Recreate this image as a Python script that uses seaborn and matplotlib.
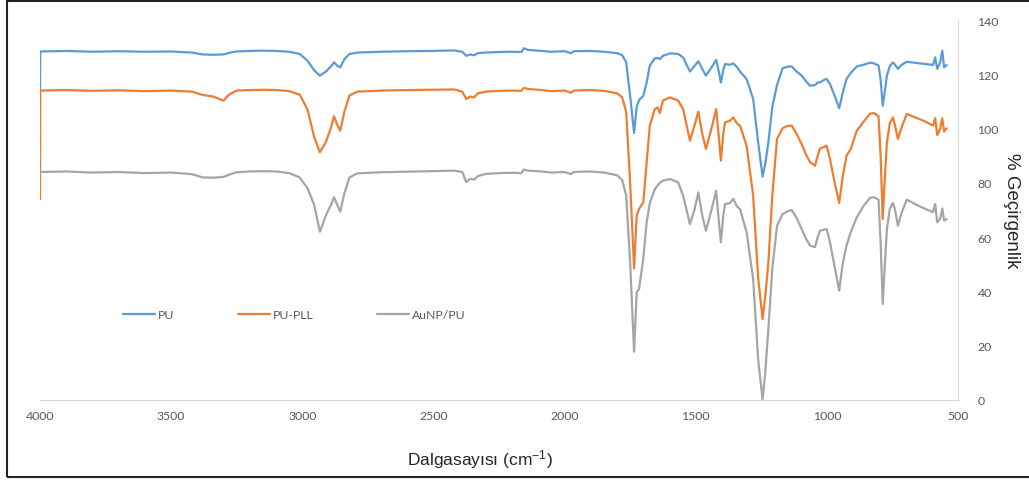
import matplotlib
matplotlib.use("Agg")
import matplotlib.pyplot as plt
from matplotlib.patches import Rectangle
import pandas as pd
import seaborn as sns

# ----------------------------
# Data
# ----------------------------
wavenumber = [
    4000, 3999, 3900, 3800, 3700, 3600, 3500, 3420, 3380, 3340, 3300, 3280,
    3250, 3200, 3150, 3100, 3050, 3010, 2980, 2955, 2933, 2910, 2890, 2879,
    2865, 2855, 2840, 2820, 2790, 2700, 2600, 2500, 2420, 2390, 2375, 2360,
    2345, 2330, 2300, 2250, 2200, 2165, 2155, 2140, 2100, 2050, 2000, 1975,
    1965, 1900, 1850, 1800, 1780, 1765, 1750, 1735, 1725, 1716, 1700, 1687,
    1675, 1656, 1645, 1637, 1625, 1598, 1567, 1548, 1522, 1505, 1490, 1475,
    1461, 1440, 1422, 1412, 1404, 1395, 1388, 1370, 1357, 1342, 1331, 1306,
    1281, 1262, 1245, 1235, 1223, 1208, 1190, 1169, 1150, 1134, 1115, 1096,
    1080, 1064, 1045, 1035, 1026, 1010, 1001, 988, 970, 953, 940, 925,
    909, 886, 860, 835, 820, 803, 795, 787, 780, 771, 760, 748,
    740, 729, 715, 695, 660, 625, 600, 595, 587, 579, 568, 560,
    553, 543,
]

pu = [
    114.0, 128.4, 128.6, 128.3, 128.5, 128.3, 128.4, 128.0, 127.3, 127.2, 127.3, 127.9,
    128.4, 128.6, 128.7, 128.6, 128.3, 127.5, 125.0, 121.5, 119.5, 121.0, 123.0, 124.4,
    123.0, 122.6, 125.5, 127.5, 128.0, 128.3, 128.5, 128.6, 128.8, 128.3, 126.8, 127.3,
    127.0, 127.8, 128.0, 128.2, 128.3, 128.2, 129.6, 129.0, 128.7, 128.3, 128.5, 127.8,
    128.5, 128.6, 128.3, 127.8, 127.0, 124.4, 112.0, 98.4, 108.0, 110.5, 112.0, 117.0,
    123.2, 125.9, 126.0, 125.6, 126.8, 127.7, 127.5, 126.2, 121.0, 123.0, 124.8, 122.0,
    119.5, 122.5, 125.3, 121.0, 117.0, 121.5, 123.8, 123.5, 124.0, 122.6, 121.0, 118.3,
    110.9, 95.0, 82.3, 87.0, 94.9, 108.0, 116.0, 122.2, 122.8, 122.9, 121.0, 119.5,
    117.5, 115.8, 116.0, 117.0, 117.0, 118.0, 118.3, 116.4, 112.0, 107.5, 113.0, 118.3,
    120.5, 122.9, 123.5, 124.3, 124.0, 123.2, 118.0, 108.4, 113.0, 119.5, 123.0, 124.4,
    123.5, 122.0, 123.5, 124.6, 124.2, 123.8, 123.5, 123.4, 126.2, 122.0, 124.4, 128.7,
    122.6, 123.4,
]

pu_pll = [
    74.0, 114.0, 114.2, 113.9, 114.1, 113.8, 114.0, 113.6, 112.4, 111.8, 110.3, 112.5,
    114.0, 114.2, 114.3, 114.2, 113.8, 112.5, 107.0, 97.0, 91.3, 95.0, 100.5, 104.5,
    101.0, 99.2, 106.0, 112.2, 113.6, 114.0, 114.2, 114.3, 114.4, 113.6, 110.9, 111.8,
    111.5, 113.0, 113.6, 113.9, 114.0, 113.9, 115.0, 114.6, 114.3, 113.8, 114.0, 113.2,
    114.0, 114.2, 113.9, 113.0, 111.5, 106.0, 80.0, 48.5, 67.9, 70.4, 72.8, 87.6,
    101.1, 107.2, 107.8, 105.7, 110.3, 111.5, 110.3, 107.2, 95.5, 101.0, 106.2, 98.0,
    92.5, 100.0, 107.2, 97.0, 88.2, 98.0, 102.3, 102.8, 104.1, 101.8, 101.1, 93.7,
    75.3, 45.0, 29.8, 38.0, 50.7, 75.3, 96.2, 100.1, 101.0, 101.1, 98.0, 94.3,
    90.5, 87.6, 86.3, 90.0, 92.7, 93.2, 93.7, 88.8, 80.0, 72.6, 82.0, 90.0,
    92.5, 99.2, 102.5, 105.5, 105.7, 104.5, 90.0, 66.7, 80.0, 94.9, 102.0, 104.1,
    101.0, 96.2, 100.5, 105.4, 104.0, 102.6, 101.3, 101.1, 103.8, 97.6, 99.9, 103.8,
    98.9, 100.1,
]

aunp_pu = [
    84.0, 84.0, 84.2, 83.8, 84.0, 83.6, 83.8, 83.2, 82.0, 81.9, 82.2, 83.0,
    83.9, 84.2, 84.3, 84.2, 83.6, 82.0, 78.0, 72.0, 62.0, 68.0, 72.0, 74.7,
    71.5, 69.4, 76.0, 82.0, 83.5, 83.9, 84.1, 84.3, 84.5, 84.0, 80.3, 81.5,
    81.2, 82.5, 83.3, 83.6, 83.7, 83.6, 84.9, 84.5, 84.3, 83.8, 84.0, 83.2,
    84.0, 84.2, 83.8, 82.8, 81.0, 75.3, 50.7, 17.8, 39.7, 40.9, 52.0, 65.5,
    72.5, 77.7, 79.0, 80.0, 80.8, 81.4, 80.2, 75.3, 64.8, 70.0, 76.5, 68.0,
    62.4, 70.0, 77.1, 66.0, 58.1, 68.0, 72.2, 72.5, 74.1, 71.2, 70.4, 61.8,
    44.6, 15.0, 0.1, 10.0, 26.2, 48.3, 64.2, 68.5, 69.5, 70.0, 67.0, 63.0,
    59.5, 56.9, 56.3, 60.0, 62.4, 62.8, 63.0, 58.1, 49.0, 40.3, 50.0, 56.9,
    61.8, 67.3, 71.5, 74.5, 74.7, 73.8, 58.0, 35.4, 48.0, 63.0, 70.5, 72.6,
    70.0, 64.2, 69.0, 73.8, 72.0, 70.4, 69.4, 69.2, 72.2, 65.5, 66.7, 70.6,
    66.1, 66.7,
]

series_names = ["PU", "PU-PLL", "AuNP/PU"]
series_colors = ["#5B9BD5", "#ED7D31", "#A5A5A5"]

x_ticks = [4000, 3500, 3000, 2500, 2000, 1500, 1000, 500]
y_ticks = [0, 20, 40, 60, 80, 100, 120, 140]

# ----------------------------
# Plot
# ----------------------------
sns.set_style("white")
plt.rcParams["font.family"] = ["Lato", "DejaVu Sans"]
plt.rcParams["mathtext.default"] = "regular"

W, H = 1029, 481
fig = plt.figure(figsize=(W / 100, H / 100), dpi=100)
ax = fig.add_axes([40 / W, (H - 401) / H, 918 / W, 380 / H])

for name, values, color in zip(series_names, [pu, pu_pll, aunp_pu], series_colors):
    df = pd.DataFrame({"wn": wavenumber, "T": values})
    sns.lineplot(data=df, x="wn", y="T", sort=False, estimator=None,
                 color=color, linewidth=1.6, label=name, ax=ax)

ax.set_xlim(4000, 500)
ax.set_ylim(0, 140)
ax.set_xticks(x_ticks)
ax.set_yticks(y_ticks)
ax.yaxis.tick_right()
ax.tick_params(axis="both", length=0, labelsize=8.8, colors="#595959")
ax.tick_params(axis="x", pad=7)
ax.tick_params(axis="y", pad=14)

for side in ["left", "top"]:
    ax.spines[side].set_visible(False)
for side in ["bottom", "right"]:
    ax.spines[side].set_color("#d9d9d9")
    ax.spines[side].set_linewidth(0.9)

ax.set_xlabel("Dalgasayısı (cm$^{-1}$)", fontsize=12.5, family="Liberation Sans")
ax.xaxis.set_label_coords(0.479, -0.125)
ax.set_ylabel("% Geçirgenlik", fontsize=13.5, family="Liberation Sans",
              rotation=270, va="center")
ax.yaxis.set_label_position("right")
ax.yaxis.set_label_coords(1.068, 0.5)

leg = ax.legend(loc="center left", bbox_to_anchor=(72 / 918, (401 - 316) / 380),
                ncol=3, frameon=False, fontsize=8.8, handlelength=2.6,
                handletextpad=0.25, columnspacing=5.2)
for text in leg.get_texts():
    text.set_color("#595959")

# frame around the whole picture
fig.patches.append(Rectangle((7 / W, 3 / H), 1.2, (H - 5) / H,
                             transform=fig.transFigure, fill=False,
                             edgecolor="#222222", linewidth=1.5))

fig.savefig("out.png", dpi=100)
